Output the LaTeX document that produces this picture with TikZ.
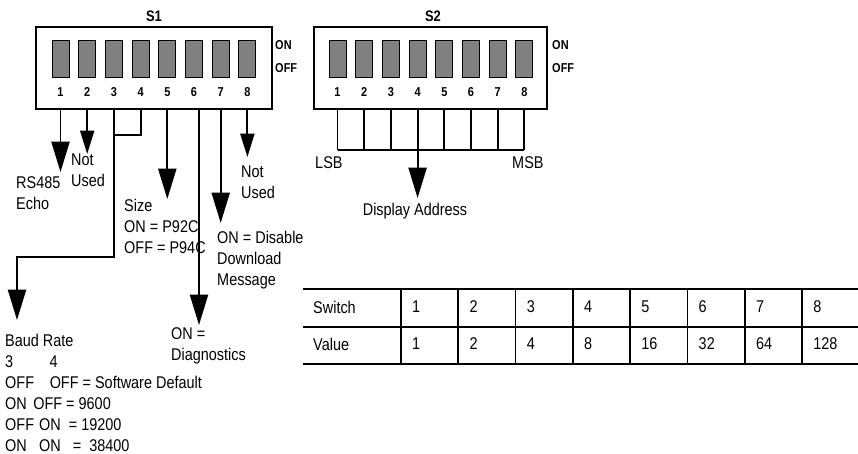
\documentclass[tikz,border=0pt]{standalone}
\usepackage{fontspec}
\setmainfont{Liberation Sans}[FakeStretch=0.85]
\usepackage{tikz}
\usetikzlibrary{arrows.meta}
\definecolor{levergray}{RGB}{128,128,128}
\newcommand{\px}{0.03cm}

\begin{document}
\begin{tikzpicture}[x=\px, y=-\px,
    wire/.style={line width=1.6pt},
    bigarr/.style={wire, -{Triangle[width=15.5pt, length=26pt]}},
    smallarr/.style={wire, -{Triangle[width=12pt, length=20pt]}},
    swbox/.style={draw, line width=1.6pt, minimum height=82*\px, inner sep=0pt},
    lever/.style={draw, fill=levergray, line width=0.8pt, minimum width=17*\px, minimum height=37*\px, inner sep=0pt},
    swnum/.style={font=\fontsize{11}{13}\selectfont\bfseries, inner sep=0pt},
    onoff/.style={font=\fontsize{11}{13}\selectfont\bfseries, anchor=west, inner sep=0pt},
    swname/.style={font=\fontsize{13}{15}\selectfont\bfseries, inner sep=0pt},
    txt/.style={font=\fontsize{14.5}{17.9}\selectfont, align=left, anchor=north west, inner sep=0pt},
    cell/.style={font=\fontsize{14.5}{17.9}\selectfont, anchor=west, inner sep=0pt},
    rule/.style={line width=1.8pt},
    vrule/.style={line width=1.4pt}]
    \useasboundingbox (0,0) rectangle (858,454);

    % switch S1
    \node[swname] (s1lab) at (154,16) {S1};
    \node[swbox, minimum width=236*\px] (s1) at (154,68) {};
    \foreach \i in {1,...,8} {
      \node[lever] (s1k\i) at ({60.5+26.7*(\i-1)},58.5) {};
      \node[swnum] (s1n\i) at ({60.5+26.7*(\i-1)},92) {\i};
    }
    \node[onoff] (s1on) at (275,45) {ON};
    \node[onoff] (s1off) at (275,68) {OFF};

    % switch S2
    \node[swname] (s2lab) at (433,16) {S2};
    \node[swbox, minimum width=233*\px] (s2) at (430.5,68) {};
    \foreach \i in {1,...,8} {
      \node[lever] (s2k\i) at ({337.5+26.7*(\i-1)},58.5) {};
      \node[swnum] (s2n\i) at ({337.5+26.7*(\i-1)},92) {\i};
    }
    \node[onoff] (s2on) at (552,45) {ON};
    \node[onoff] (s2off) at (552,68) {OFF};

    % labels
    \node[txt] (rs485) at (16,176) {RS485\\Echo};
    \node[txt] (nu2) at (71,154) {Not\\Used};
    \node[txt] (size) at (124,199) {Size\\ON = P92C\\OFF = P94C};
    \node[txt] (nu8) at (241,166) {Not\\Used};
    \node[txt] (disable) at (217,231) {ON = Disable\\Download\\Message};
    \node[txt] (diag) at (171,327) {ON =\\Diagnostics};
    \node[txt] (baud) at (5,334) {Baud Rate\\
      \makebox[38pt][l]{3}4\\
      \makebox[38pt][l]{OFF}OFF = Software Default\\
      \makebox[24pt][l]{ON}OFF = 9600\\
      \makebox[29pt][l]{OFF}ON\ \ = 19200\\
      \makebox[29pt][l]{ON}ON\ \ \ = \ 38400};
    \node[txt] (lsb) at (315,156) {LSB};
    \node[txt] (msb) at (512,156) {MSB};
    \node[txt, anchor=north] (disp) at (415,203) {Display Address};

    \coordinate (join34) at (0,135);
    \coordinate (bend) at (0,257);
    \coordinate (bus) at (0,150);

    % S1 connectors
    \draw[bigarr, shorten >=4*\px] (s1k1 |- s1.south) -- (s1k1 |- rs485.north);
    \draw[smallarr] (s1k2 |- s1.south) -- (s1k2 |- nu2.north);
    \draw[wire] (s1k4 |- s1.south) |- (s1k3 |- join34);
    \draw[bigarr] (s1k3 |- s1.south) -- (s1k3 |- bend) -| ([xshift=12*\px, yshift=14*\px]baud.north west);
    \draw[bigarr] (s1k5 |- s1.south) -- (s1k5 |- size.north);
    \draw[bigarr, shorten >=2*\px] ([xshift=5*\px]s1k6 |- s1.south) -- ([xshift=5*\px]s1k6 |- diag.north);
    \draw[bigarr, shorten >=8*\px] (s1k7 |- s1.south) -- (s1k7 |- disable.north);
    \draw[smallarr, shorten >=9*\px] (s1k8 |- s1.south) -- (s1k8 |- nu8.north);

    % S2 connectors
    \foreach \i in {1,...,8}
      \draw[wire] (s2k\i |- s2.south) -- (s2k\i |- bus);
    \draw[wire] (s2k1 |- bus) -- (s2k8 |- bus);
    \draw[bigarr, shorten >=5*\px] (s2k4 |- s2.south) -- (s2k4 |- disp.north);

    % table
    \node[cell] (hsw) at (313,307) {Switch};
    \node[cell] (hval) at (313,344) {Value};
    \foreach \i/\v in {1/1,2/2,3/4,4/8,5/16,6/32,7/64,8/128} {
      \node[cell] (sw\i) at ({412+57.3*(\i-1)},307) {\i};
      \node[cell] (val\i) at ({412+57.3*(\i-1)},344) {\v};
    }
    \draw[rule] (303,289) -- (858,289);
    \draw[rule] (303,327) -- (858,327);
    \draw[rule] (303,364) -- (858,364);
    \foreach \c in {0,...,7}
      \draw[vrule] ({401+57.3*\c},289) -- ({401+57.3*\c},364);
  \end{tikzpicture}
\end{document}
